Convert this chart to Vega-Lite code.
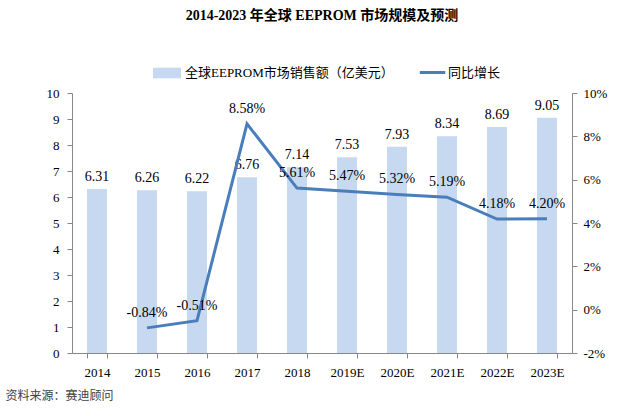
{
  "$schema": "https://vega.github.io/schema/vega-lite/v6.json",
  "width": 500,
  "height": 260,
  "autosize": {"type": "none"},
  "padding": {"left": 72, "top": 93, "right": 68, "bottom": 63},
  "background": "white",
  "title": {
    "text": "2014-2023 年全球 EEPROM 市场规模及预测",
    "anchor": "middle",
    "offset": 35,
    "fontSize": 14,
    "fontWeight": "bold",
    "color": "#000000",
    "font": "Liberation Serif, Noto Sans CJK SC"
  },
  "data": {
    "values": [
      {"year": "2014", "sales": 6.31, "growth": null},
      {"year": "2015", "sales": 6.26, "growth": -0.0084},
      {"year": "2016", "sales": 6.22, "growth": -0.0051},
      {"year": "2017", "sales": 6.76, "growth": 0.0858},
      {"year": "2018", "sales": 7.14, "growth": 0.0561},
      {"year": "2019E", "sales": 7.53, "growth": 0.0547},
      {"year": "2020E", "sales": 7.93, "growth": 0.0532},
      {"year": "2021E", "sales": 8.34, "growth": 0.0519},
      {"year": "2022E", "sales": 8.69, "growth": 0.0418},
      {"year": "2023E", "sales": 9.05, "growth": 0.042}
    ]
  },
  "encoding": {
    "x": {
      "field": "year",
      "type": "ordinal",
      "sort": null,
      "scale": {"paddingInner": 0.6, "paddingOuter": 0.3},
      "axis": {
        "labelAngle": 0,
        "tickBand": "extent",
        "tickSize": 5,
        "labelPadding": 8,
        "title": "资料来源：赛迪顾问",
        "titleAnchor": "start",
        "titleX": -67,
        "titleY": 37,
        "titleAlign": "left",
        "titleFontWeight": "normal",
        "titleFontSize": 12,
        "titleColor": "#404040"
      }
    }
  },
  "layer": [
    {
      "encoding": {
        "y": {
          "field": "sales",
          "type": "quantitative",
          "scale": {"domain": [0, 10], "nice": false},
          "axis": {
            "title": null,
            "orient": "left",
            "values": [0, 1, 2, 3, 4, 5, 6, 7, 8, 9, 10],
            "labelPadding": 8
          }
        }
      },
      "layer": [
        {
          "mark": {"type": "bar"},
          "encoding": {
            "color": {
              "datum": "全球EEPROM市场销售额（亿美元）",
              "scale": {"range": ["#c6d9f1"]},
              "legend": {
                "title": null,
                "orient": "none",
                "legendX": 80,
                "legendY": -35,
                "symbolType": "M-1,-0.38L1,-0.38L1,0.38L-1,0.38Z",
                "symbolSize": 784,
                "labelOffset": 3,
                "labelLimit": 400
              }
            }
          }
        },
        {
          "mark": {"type": "text", "dy": -12, "fontSize": 14},
          "encoding": {
            "text": {"field": "sales", "type": "quantitative", "format": ".2f"}
          }
        }
      ]
    },
    {
      "transform": [{"filter": "datum.growth != null"}],
      "encoding": {
        "y": {
          "field": "growth",
          "type": "quantitative",
          "scale": {"domain": [-0.02, 0.1], "nice": false},
          "axis": {
            "title": null,
            "orient": "right",
            "values": [-0.02, 0, 0.02, 0.04, 0.06, 0.08, 0.1],
            "format": ".0%",
            "labelExpr": "replace(datum.label, '\u2212', '-')",
            "labelPadding": 6
          }
        }
      },
      "layer": [
        {
          "mark": {"type": "line", "strokeWidth": 3},
          "encoding": {
            "color": {
              "datum": "同比增长",
              "scale": {"range": ["#4a7ebb"]},
              "legend": {
                "title": null,
                "orient": "none",
                "legendX": 346,
                "legendY": -35,
                "symbolType": "stroke",
                "symbolSize": 650,
                "symbolStrokeWidth": 3,
                "labelOffset": 1,
                "labelLimit": 200
              }
            }
          }
        },
        {
          "mark": {
            "type": "text",
            "dy": -15,
            "fontSize": 14,
            "text": {"expr": "replace(format(datum.growth, '.2%'), '\u2212', '-')"}
          }
        }
      ]
    }
  ],
  "resolve": {"scale": {"y": "independent", "color": "independent"}},
  "config": {
    "font": "Liberation Serif, Noto Sans CJK SC",
    "view": {"stroke": null},
    "axis": {
      "grid": false,
      "domainColor": "#888888",
      "tickColor": "#888888",
      "labelColor": "#000000",
      "labelFont": "Liberation Serif",
      "labelFontSize": 13,
      "tickSize": 5
    },
    "legend": {
      "labelFont": "Liberation Serif, Noto Sans CJK SC",
      "labelFontSize": 13,
      "labelColor": "#000000",
      "direction": "horizontal"
    },
    "text": {"font": "Liberation Serif", "color": "#000000"}
  }
}
